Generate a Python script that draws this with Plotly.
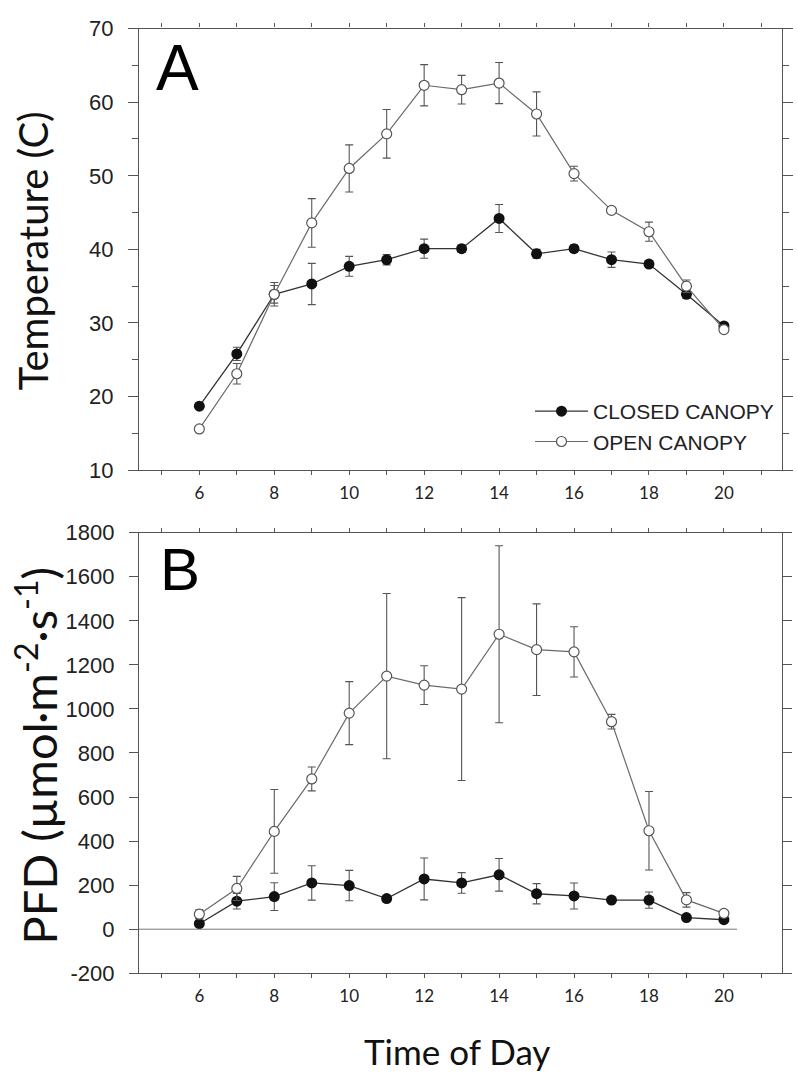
import plotly.graph_objects as go

# ---------------- data ----------------
hours = [6, 7, 8, 9, 10, 11, 12, 13, 14, 15, 16, 17, 18, 19, 20]

temp_closed = [18.7, 25.8, 33.9, 35.3, 37.7, 38.6, 40.1, 40.1, 44.2, 39.4, 40.1, 38.6, 38.0, 33.9, 29.6]
temp_closed_err = [0.3, 0.9, 1.2, 2.8, 1.35, 0.7, 1.3, 0.5, 1.9, 0.6, 0.5, 1.05, 0.4, 0.5, 0.3]
temp_open = [15.6, 23.1, 33.9, 43.6, 51.0, 55.7, 62.3, 61.7, 62.6, 58.4, 50.3, 45.3, 42.4, 35.0, 29.1]
temp_open_err = [0.2, 1.4, 1.6, 3.3, 3.2, 3.3, 2.8, 1.95, 2.8, 3.0, 1.0, 0.3, 1.3, 0.85, 0.2]

pfd_closed = [25, 127, 148, 210, 198, 139, 228, 210, 247, 161, 151, 132, 132, 53, 43]
pfd_closed_err = [10, 35, 63, 78, 69, 12, 95, 47, 74, 46, 59, 10, 37, 10, 8]
pfd_open = [68, 185, 444, 682, 981, 1149, 1108, 1090, 1339, 1269, 1259, 942, 447, 133, 72]
pfd_open_err = [20, 55, 190, 54, 143, 375, 88, 415, 402, 208, 114, 33, 178, 33, 8]

label_hours = [6, 8, 10, 12, 14, 16, 18, 20]
label_text = [str(h) for h in label_hours]

temp_ticks = [10, 20, 30, 40, 50, 60, 70]
pfd_ticks = [-200, 0, 200, 400, 600, 800, 1000, 1200, 1400, 1600, 1800]
pfd_tick_text = ["-200", "0", "200", "400", "600", "800", "1000", "1200", "1400", "1600", "1800"]

series_names = ["CLOSED CANOPY", "OPEN CANOPY"]

# ---------------- layout helpers ----------------
FW, FH = 798, 1082


def px(x):
    return x / FW


def py(y):
    return 1 - y / FH


AX = "#555555"
X_RANGE = [4.39, 21.55]
X_DOM = [px(139), px(782)]
YA_DOM = [py(469), py(17)]
YB_DOM = [py(984), py(533)]

closed_style = dict(
    mode="lines+markers",
    line=dict(color="#333333", width=1.3),
    marker=dict(symbol="circle", size=11, color="#111111", line=dict(width=0)),
)
open_style = dict(
    mode="lines+markers",
    line=dict(color="#6a6a6a", width=1.2),
    marker=dict(symbol="circle", size=10, color="white", line=dict(color="#555555", width=1.2)),
)
err_style = dict(type="data", symmetric=True, color="#555555", thickness=1.1, width=4)

fig = go.Figure()

# Panel A
fig.add_trace(go.Scatter(x=hours, y=temp_closed, name=series_names[0],
                         error_y=dict(array=temp_closed_err, **err_style),
                         xaxis="x", yaxis="y", **closed_style))
fig.add_trace(go.Scatter(x=hours, y=temp_open, name=series_names[1],
                         error_y=dict(array=temp_open_err, **err_style),
                         xaxis="x", yaxis="y", **open_style))
# Panel B
fig.add_trace(go.Scatter(x=hours, y=pfd_closed, name=series_names[0], showlegend=False,
                         error_y=dict(array=pfd_closed_err, **err_style),
                         xaxis="x2", yaxis="y2", **closed_style))
fig.add_trace(go.Scatter(x=hours, y=pfd_open, name=series_names[1], showlegend=False,
                         error_y=dict(array=pfd_open_err, **err_style),
                         xaxis="x2", yaxis="y2", **open_style))


def xaxis_main(anchor):
    return dict(
        domain=X_DOM, range=X_RANGE, anchor=anchor,
        tickmode="array", tickvals=label_hours, ticktext=label_text,
        ticks="outside", ticklen=4, tickwidth=1, tickcolor=AX,
        minor=dict(tick0=6, dtick=1, ticks="outside", ticklen=4, tickwidth=1, tickcolor=AX),
        showline=True, linecolor=AX, linewidth=1.3, mirror="ticks",
        showgrid=False, zeroline=False,
        tickfont=dict(family="Lato, Open Sans, sans-serif", size=17, color="#222222"),
        ticklabelstandoff=3,
    )


def xaxis_overlay(base, anchor):
    return dict(
        domain=X_DOM, range=X_RANGE, anchor=anchor, overlaying=base,
        tickmode="array", tickvals=label_hours, showticklabels=False,
        ticks="inside", ticklen=4, tickwidth=1, tickcolor=AX,
        minor=dict(tick0=6, dtick=1, ticks="inside", ticklen=4, tickwidth=1, tickcolor=AX),
        showline=True, linecolor=AX, linewidth=1.3, mirror="ticks",
        showgrid=False, zeroline=False,
    )


ytick_font = dict(family="Liberation Sans, Arial, sans-serif", size=22, color="#222222")

fig.update_layout(
    width=FW, height=FH, autosize=False,
    margin=dict(l=0, r=0, t=0, b=0),
    paper_bgcolor="white", plot_bgcolor="white",
    xaxis=xaxis_main("y"),
    xaxis3=xaxis_overlay("x", "y"),
    xaxis2=xaxis_main("y2"),
    xaxis4=xaxis_overlay("x2", "y2"),
    yaxis=dict(
        domain=YA_DOM, range=[10, 70], anchor="x",
        tickmode="array", tickvals=temp_ticks,
        ticks="outside", ticklen=10, tickwidth=1, tickcolor=AX,
        minor=dict(dtick=5, tick0=10, ticks="outside", ticklen=6, tickcolor=AX, tickwidth=1),
        showline=True, linecolor=AX, linewidth=1.3, mirror="ticks",
        showgrid=False, zeroline=False, tickfont=ytick_font, ticklabelstandoff=10,
    ),
    yaxis2=dict(
        domain=YB_DOM, range=[-200, 1800], anchor="x2",
        tickmode="array", tickvals=pfd_ticks, ticktext=pfd_tick_text,
        ticks="outside", ticklen=9, tickwidth=1, tickcolor=AX,
        showline=True, linecolor=AX, linewidth=1.3, mirror="ticks",
        showgrid=False, zeroline=False, tickfont=ytick_font, ticklabelstandoff=10,
    ),
    legend=dict(
        x=px(530), y=py(388), xanchor="left", yanchor="top",
        bgcolor="rgba(0,0,0,0)",
        font=dict(family="Liberation Sans, Arial, sans-serif", size=21, color="#222222"),
        itemwidth=53, tracegroupgap=0,
    ),
    showlegend=True,
)

# zero reference line in panel B
fig.add_shape(type="line", xref="x2", yref="y2", x0=X_RANGE[0], x1=20.35, y0=0, y1=0,
              line=dict(color="#777777", width=1))

# panel letters and axis titles
fig.add_annotation(text="A", xref="paper", yref="paper", x=px(177), y=py(57),
                   showarrow=False, xanchor="center", yanchor="middle",
                   font=dict(family="Liberation Sans, Arial, sans-serif", size=64, color="black"))
fig.add_annotation(text="B", xref="paper", yref="paper", x=px(180), y=py(571),
                   showarrow=False, xanchor="center", yanchor="middle",
                   font=dict(family="Liberation Sans, Arial, sans-serif", size=60, color="black"))
fig.add_annotation(text="Temperature (C)", xref="paper", yref="paper", x=px(33), y=py(245),
                   showarrow=False, textangle=-90, xanchor="center", yanchor="middle",
                   font=dict(family="Lato, Open Sans, sans-serif", size=40, color="#111111"))
fig.add_annotation(text="PFD (µmol·m<sup><span style='font-size:32px'>-2</span></sup>·s<sup><span style='font-size:32px'>-1</span></sup>)",
                   xref="paper", yref="paper", x=px(37), y=py(762),
                   showarrow=False, textangle=-90, xanchor="center", yanchor="middle",
                   font=dict(family="Lato, Open Sans, sans-serif", size=47, color="#111111"))
fig.add_annotation(text="Time of Day", xref="paper", yref="paper", x=px(457), y=py(1064),
                   showarrow=False, xanchor="center", yanchor="middle",
                   font=dict(family="Lato, Open Sans, sans-serif", size=35, color="#111111"))

fig.write_html(
    "out.html",
    config={"displayModeBar": False},
    post_script="document.body.style.margin='0';document.body.style.overflow='hidden';",
)
